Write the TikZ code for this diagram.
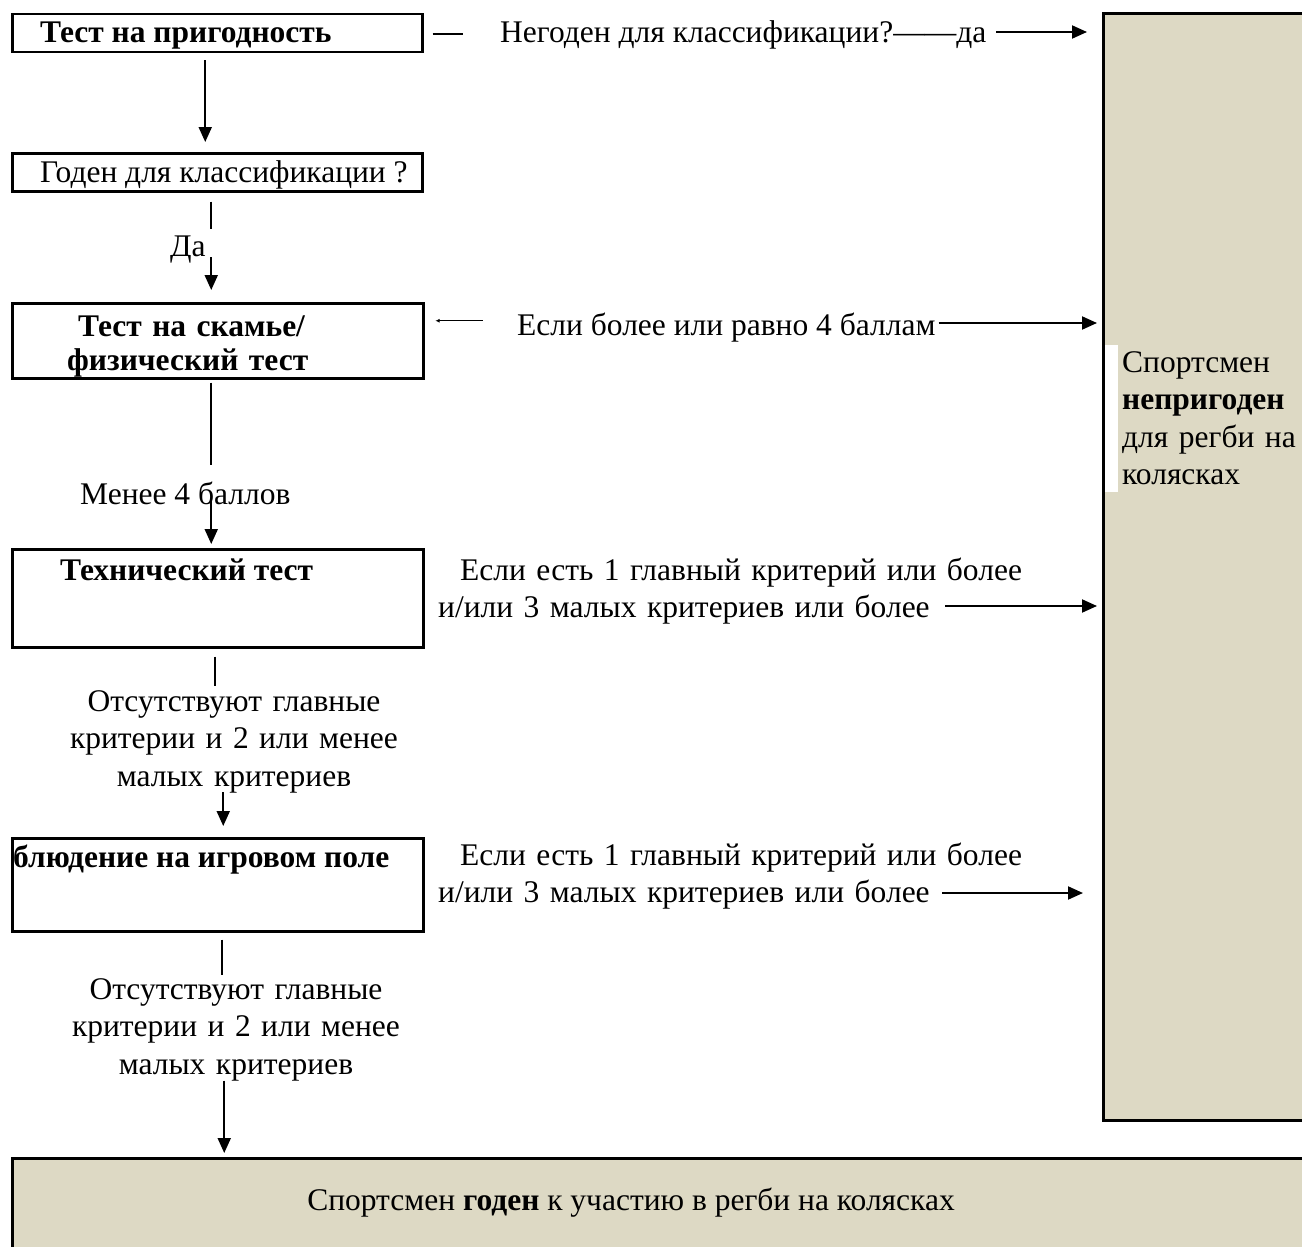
\documentclass[tikz,border=0pt]{standalone}
\usepackage{fontspec}
\setmainfont{Liberation Serif}
\usetikzlibrary{arrows.meta,calc}
\definecolor{tanfill}{RGB}{221,217,196}
\begin{document}
\begin{tikzpicture}[x=1pt,y=-1pt,
  every node/.style={font=\fontsize{31.5}{37.5}\selectfont, inner sep=0pt},
  box/.style={draw, line width=2.5pt, anchor=north west, minimum width=410pt},
  shadebox/.style={draw, fill=tanfill, line width=3pt, anchor=north west},
  txt/.style={anchor=base west},
  multi/.style={anchor=base west, align=left, text width=#1},
  centred/.style={anchor=base, align=center, text width=#1},
  arr/.style={line width=2pt, -{Triangle[length=15pt,width=13pt]}},
  smallarr/.style={line width=1.3pt, {Latex[length=4pt,width=4pt]}-},
  ln/.style={line width=2pt},
  thinln/.style={line width=1.5pt}]
\useasboundingbox (0,0) rectangle (1302,1247);
\clip (0,0) rectangle (1302,1247);

% shaded result boxes
\node[shadebox, minimum width=260pt, minimum height=1107pt] (unfit) at (1102,12) {};
\fill[white] (1104.5,345) rectangle (1118,492);
\node[multi=185pt] (unfittext) at (1122,372) {Спортсмен\\\textbf{непригоден}\\для регби на\\колясках};

\node[shadebox, minimum width=1330pt, minimum height=150pt] (fit) at (11,1157) {};
\node[anchor=base] (fittext) at (631,1210) {Спортсмен \textbf{годен} к участию в регби на колясках};

% left column boxes
\node[box, minimum height=38pt] (b1) at (11,13) {};
\node[txt] (t1) at (40,43) {\textbf{Тест на пригодность}};

\node[box, minimum height=38pt] (b2) at (11,152) {};
\node[txt] (t2) at (40,182) {Годен для классификации ?};

\node[box, minimum width=411pt, minimum height=75pt] (b3) at (11,302) {};
\node[multi=330pt] (t3) at (67,336) {\hspace*{11pt}\textbf{Тест на скамье/}\\[-3.5pt]\textbf{физический тест}};

\node[box, minimum width=411pt, minimum height=98pt] (b4) at (11,548) {};
\node[txt] (t4) at (60,580) {\textbf{Технический тест}};

\node[box, minimum width=411pt, minimum height=93pt] (b5) at (11,837) {};
\node[txt] (t5) at (13,867) {\textbf{блюдение на игровом поле}};

% labels on the left column
\node[txt] (da) at (170,256) {Да};
\node[txt] (m1) at (80,504) {Менее 4 баллов};
\node[centred=360pt] (l4) at (234,711) {Отсутствуют главные\\критерии и 2 или менее\\малых критериев};
\node[centred=360pt] (l5) at (236,999) {Отсутствуют главные\\критерии и 2 или менее\\малых критериев};

% labels on the right
\node[txt] (q1) at (500,43) {Негоден для классификации?——да};
\node[txt] (q2) at (517,335) {Если более или равно 4 баллам};
\node[multi=640pt] (q3) at (438,580) {\hspace*{22pt}Если есть 1 главный критерий или более\\и/или 3 малых критериев или более};
\node[multi=640pt] (q4) at (438,865) {\hspace*{22pt}Если есть 1 главный критерий или более\\и/или 3 малых критериев или более};

% vertical connectors
\draw[arr] ($(b1.south)+(-12,7)$) -- ($(b2.north)+(-12,-10)$);
\draw[ln] ($(b2.south)+(-6,9)$) -- ($(b2.south)+(-6,36)$);
\draw[arr] ($(b3.north)+(-6.5,-45)$) -- ($(b3.north)+(-6.5,-12)$);
\draw[ln] ($(b3.south)+(-6.5,3)$) -- ($(b3.south)+(-6.5,85)$);
\draw[arr] ($(b4.north)+(-6.5,-50)$) -- ($(b4.north)+(-6.5,-4)$);
\draw[ln] ($(b4.south)+(-2.5,8)$) -- ($(b4.south)+(-2.5,37)$);
\draw[arr] ($(b5.north)+(5.5,-45)$) -- ($(b5.north)+(5.5,-11)$);
\draw[ln] ($(b5.south)+(4.5,7)$) -- ($(b5.south)+(4.5,42)$);
\draw[arr] ($(b5.south)+(6.5,148)$) -- ($(b5.south |- fit.north)+(6.5,-4)$);

% horizontal connectors
\draw[thinln] ($(b1.east)+(9,1)$) -- ($(b1.east)+(39,1)$);
\draw[arr] ($(q1.base east)+(10,-11)$) -- ($(q1.base east -| unfit.west)+(-15,-11)$);
\draw[smallarr] ($(b3.east)+(11,-20)$) -- ($(b3.east)+(58,-20)$);
\draw[arr] ($(q2.base east)+(3,-12)$) -- ($(q2.base east -| unfit.west)+(-5,-12)$);
\draw[arr] ($(q3.base west)+(507,26)$) -- ($(q3.base west -| unfit.west)+(-5,26)$);
\draw[arr] ($(q4.base west)+(504,28)$) -- ($(q4.base west -| unfit.west)+(-19,28)$);
\end{tikzpicture}
\end{document}
